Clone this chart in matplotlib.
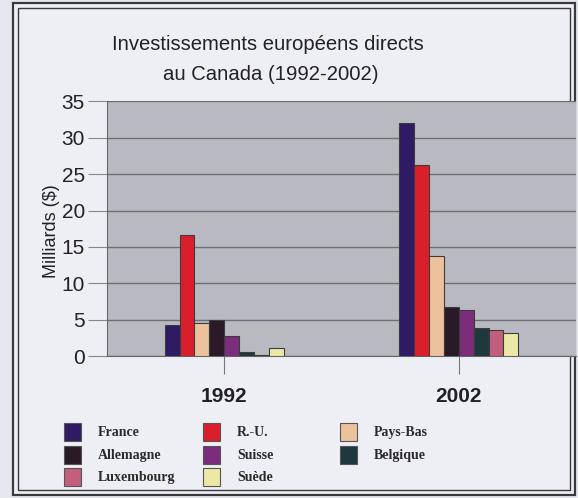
import matplotlib
matplotlib.use("Agg")
import matplotlib.pyplot as plt
from matplotlib.patches import Rectangle
import numpy as np

# data (milliards $)
years = ["1992", "2002"]
pays = ["France", "R.-U.", "Pays-Bas", "Allemagne", "Suisse",
        "Belgique", "Luxembourg", "Suède"]
valeurs_1992 = [4.2, 16.7, 4.5, 5.0, 2.8, 0.6, 0.2, 1.05]
valeurs_2002 = [32.1, 26.2, 13.8, 6.8, 6.3, 3.8, 3.6, 3.1]
couleurs = ["#2f1b63", "#d91f2b", "#ebc29c", "#2a1a28", "#7b2c7a",
            "#1f383d", "#c35f7c", "#ece9a6"]
yticks = [0, 5, 10, 15, 20, 25, 30, 35]

W, H = 578, 498
fig = plt.figure(figsize=(W / 100, H / 100), dpi=100)
fig.patch.set_facecolor("#e6e6ee")

# double frame
fig.patches.append(Rectangle((13 / W, 3 / H), (575 - 13) / W, (495 - 3) / H,
                             transform=fig.transFigure, facecolor="#eeeef5",
                             edgecolor="#3a3a3a", lw=1.6, zorder=-10))
fig.patches.append(Rectangle((18 / W, 8 / H), (570 - 18) / W, (490 - 8) / H,
                             transform=fig.transFigure, facecolor="none",
                             edgecolor="#3a3a3a", lw=1.0, zorder=-9))

ax = fig.add_axes([107 / W, 1 - 356 / H, (576 - 107) / W, (356 - 101.5) / H])
ax.set_zorder(1)
ax.set_facecolor("#b9b9c1")

data = np.array([valeurs_1992, valeurs_2002])
x = np.arange(len(years))
n = len(pays)
width = 0.0636
for i in range(n):
    ax.bar(x + (i - (n - 1) / 2) * width, data[:, i], width,
           color=couleurs[i], edgecolor="#3c3c3c", linewidth=0.8, zorder=3)

ax.set_xlim(-0.5, 1.5)
ax.set_ylim(0, 35)
ax.set_yticks(yticks)
ax.set_xticks(x)
ax.set_xticklabels(years, fontsize=15, fontweight="bold", family="Liberation Sans",
                   color="#222222")
ax.tick_params(axis="x", length=13, pad=9, color="#777777")
ax.tick_params(axis="y", length=14, pad=2, color="#888888", labelsize=15,
               labelcolor="#222222")
for lab in ax.get_yticklabels():
    lab.set_family("Liberation Sans")
ax.yaxis.grid(True, color="#6e6e74", lw=1.0, zorder=1)
ax.set_axisbelow(True)
for s in ["top", "right"]:
    ax.spines[s].set_visible(False)
ax.spines["left"].set_color("#666666")
ax.spines["bottom"].set_color("#666666")

fig.text(51 / W, 1 - 231 / H, "Milliards ($)", rotation=90, ha="center",
         va="center", fontsize=13, family="Liberation Sans", color="#222222")

fig.text(268 / W, 1 - 45 / H, "Investissements européens directs",
         ha="center", va="center", fontsize=14.6, family="Liberation Sans",
         color="#222222")
fig.text(271 / W, 1 - 75 / H, "au Canada (1992-2002)",
         ha="center", va="center", fontsize=14.6, family="Liberation Sans",
         color="#222222")

# legend, row-major in 3 columns
col_x = [64, 203, 340]
row_y = [432, 455, 477]
for i, nom in enumerate(pays):
    r, c = i // 3, i % 3
    fig.patches.append(Rectangle((col_x[c] / W, 1 - (row_y[r] + 9) / H),
                                 17 / W, 18 / H, transform=fig.transFigure,
                                 facecolor=couleurs[i], edgecolor="#555555",
                                 lw=0.8, zorder=2))
    fig.text((col_x[c] + 34) / W, 1 - row_y[r] / H, nom, ha="left",
             va="center", fontsize=10, fontweight="bold",
             family="Liberation Serif", color="#2a2a2a")

fig.savefig("out.png", dpi=100, facecolor=fig.get_facecolor())
